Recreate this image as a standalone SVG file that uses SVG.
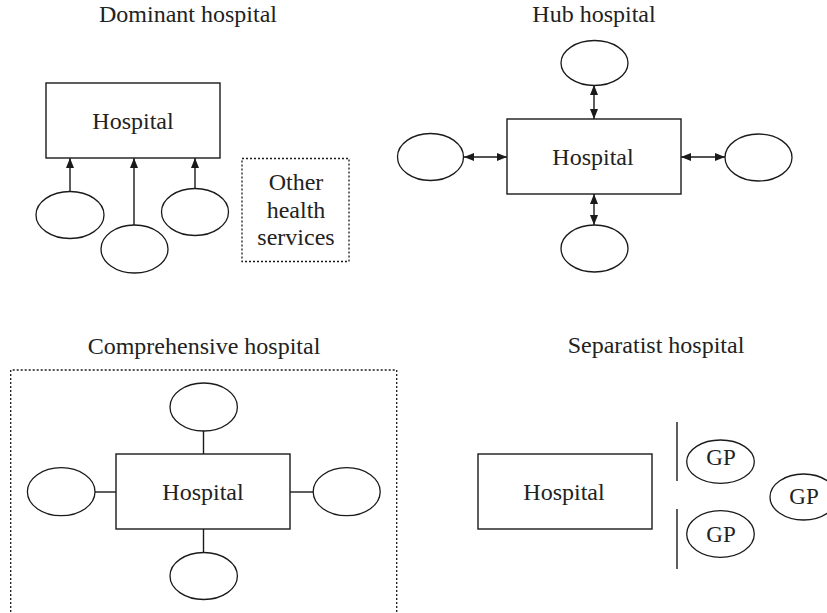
<svg xmlns="http://www.w3.org/2000/svg" width="827" height="613" viewBox="0 0 827 613">
<defs>
<marker id="ah" markerWidth="10" markerHeight="8" refX="10" refY="4" orient="auto-start-reverse" markerUnits="userSpaceOnUse">
<path d="M0,0 L10,4 L0,8 Z" fill="#1a1a1a"/>
</marker>
</defs>
<style>
.box{fill:#fff;stroke:#1a1a1a;stroke-width:1.4}
.ell{fill:#fff;stroke:#1a1a1a;stroke-width:1.3}
.dot{fill:none;stroke:#1a1a1a;stroke-width:1.3;stroke-dasharray:2 2}
.ln{fill:none;stroke:#1a1a1a;stroke-width:1.4}
.t{font-family:"Liberation Serif","Times New Roman",serif;font-size:24px;fill:#222;text-anchor:middle}
.s{font-size:23px}
</style>
<rect width="827" height="613" fill="#fff"/>

<!-- Titles -->
<g id="titles">
<text class="t" x="188" y="22">Dominant hospital</text>
<text class="t" x="594" y="22">Hub hospital</text>
<text class="t" x="204" y="354">Comprehensive hospital</text>
<text class="t" x="656" y="353">Separatist hospital</text>
</g>

<!-- Connectors -->
<g id="connectors">
<line class="ln" x1="70" y1="192" x2="70" y2="158" marker-end="url(#ah)"/>
<line class="ln" x1="134" y1="225" x2="134" y2="158" marker-end="url(#ah)"/>
<line class="ln" x1="195" y1="188" x2="195" y2="158" marker-end="url(#ah)"/>

<line class="ln" x1="594" y1="85" x2="594" y2="119" marker-start="url(#ah)" marker-end="url(#ah)"/>
<line class="ln" x1="594" y1="194" x2="594" y2="225" marker-start="url(#ah)" marker-end="url(#ah)"/>
<line class="ln" x1="464" y1="157" x2="507" y2="157" marker-start="url(#ah)" marker-end="url(#ah)"/>
<line class="ln" x1="681" y1="157" x2="725" y2="157" marker-start="url(#ah)" marker-end="url(#ah)"/>

<line class="ln" x1="203.5" y1="431" x2="203.5" y2="454"/>
<line class="ln" x1="203.5" y1="529" x2="203.5" y2="553"/>
<line class="ln" x1="95" y1="492" x2="116" y2="492"/>
<line class="ln" x1="290" y1="492" x2="313" y2="492"/>

<line class="ln" x1="677" y1="422" x2="677" y2="481"/>
<line class="ln" x1="677" y1="509" x2="677" y2="569"/>
</g>

<!-- Dominant hospital -->
<g id="dom-hospital">
<rect class="box" x="46" y="83" width="174" height="75"/>
<text class="t" x="133" y="129">Hospital</text>
</g>
<g id="dom-e1"><ellipse class="ell" cx="70" cy="215" rx="34" ry="23.5"/></g>
<g id="dom-e2"><ellipse class="ell" cx="134.5" cy="249" rx="33.5" ry="24"/></g>
<g id="dom-e3"><ellipse class="ell" cx="195" cy="212" rx="33.5" ry="23.5"/></g>
<g id="dom-other">
<rect class="dot" x="242" y="158.5" width="107" height="103"/>
<text class="t" x="296" y="190">Other</text>
<text class="t" x="296" y="218">health</text>
<text class="t" x="296" y="245">services</text>
</g>

<!-- Hub hospital -->
<g id="hub-hospital">
<rect class="box" x="507" y="119" width="174" height="75"/>
<text class="t" x="593" y="165">Hospital</text>
</g>
<g id="hub-top"><ellipse class="ell" cx="594.5" cy="63" rx="33.5" ry="22.5"/></g>
<g id="hub-bottom"><ellipse class="ell" cx="594.5" cy="248.5" rx="33.5" ry="23.5"/></g>
<g id="hub-left"><ellipse class="ell" cx="430.5" cy="157" rx="33" ry="23.5"/></g>
<g id="hub-right"><ellipse class="ell" cx="758.5" cy="157.5" rx="33.5" ry="23.5"/></g>

<!-- Comprehensive hospital -->
<g id="comp-frame">
<path class="dot" d="M10.7,620 L10.7,370 L396.7,370 L396.7,620"/>
</g>
<g id="comp-hospital">
<rect class="box" x="116" y="454" width="174" height="75"/>
<text class="t" x="203" y="500">Hospital</text>
</g>
<g id="comp-top"><ellipse class="ell" cx="203.7" cy="407" rx="33.7" ry="24"/></g>
<g id="comp-bottom"><ellipse class="ell" cx="203.7" cy="576" rx="33.7" ry="23.5"/></g>
<g id="comp-left"><ellipse class="ell" cx="61.2" cy="491.7" rx="33.8" ry="24"/></g>
<g id="comp-right"><ellipse class="ell" cx="346.7" cy="491.7" rx="33.5" ry="24"/></g>

<!-- Separatist hospital -->
<g id="sep-hospital">
<rect class="box" x="478" y="454" width="174" height="75"/>
<text class="t" x="564" y="500">Hospital</text>
</g>
<g id="sep-gp1">
<ellipse class="ell" cx="720.5" cy="461.7" rx="33.8" ry="21.7"/>
<text class="t s" x="721" y="465">GP</text>
</g>
<g id="sep-gp2">
<ellipse class="ell" cx="720.5" cy="534" rx="33.8" ry="23.3"/>
<text class="t s" x="721" y="542">GP</text>
</g>
<g id="sep-gp3">
<ellipse class="ell" cx="803.5" cy="497" rx="33.5" ry="23"/>
<text class="t s" x="804" y="504">GP</text>
</g>
</svg>
